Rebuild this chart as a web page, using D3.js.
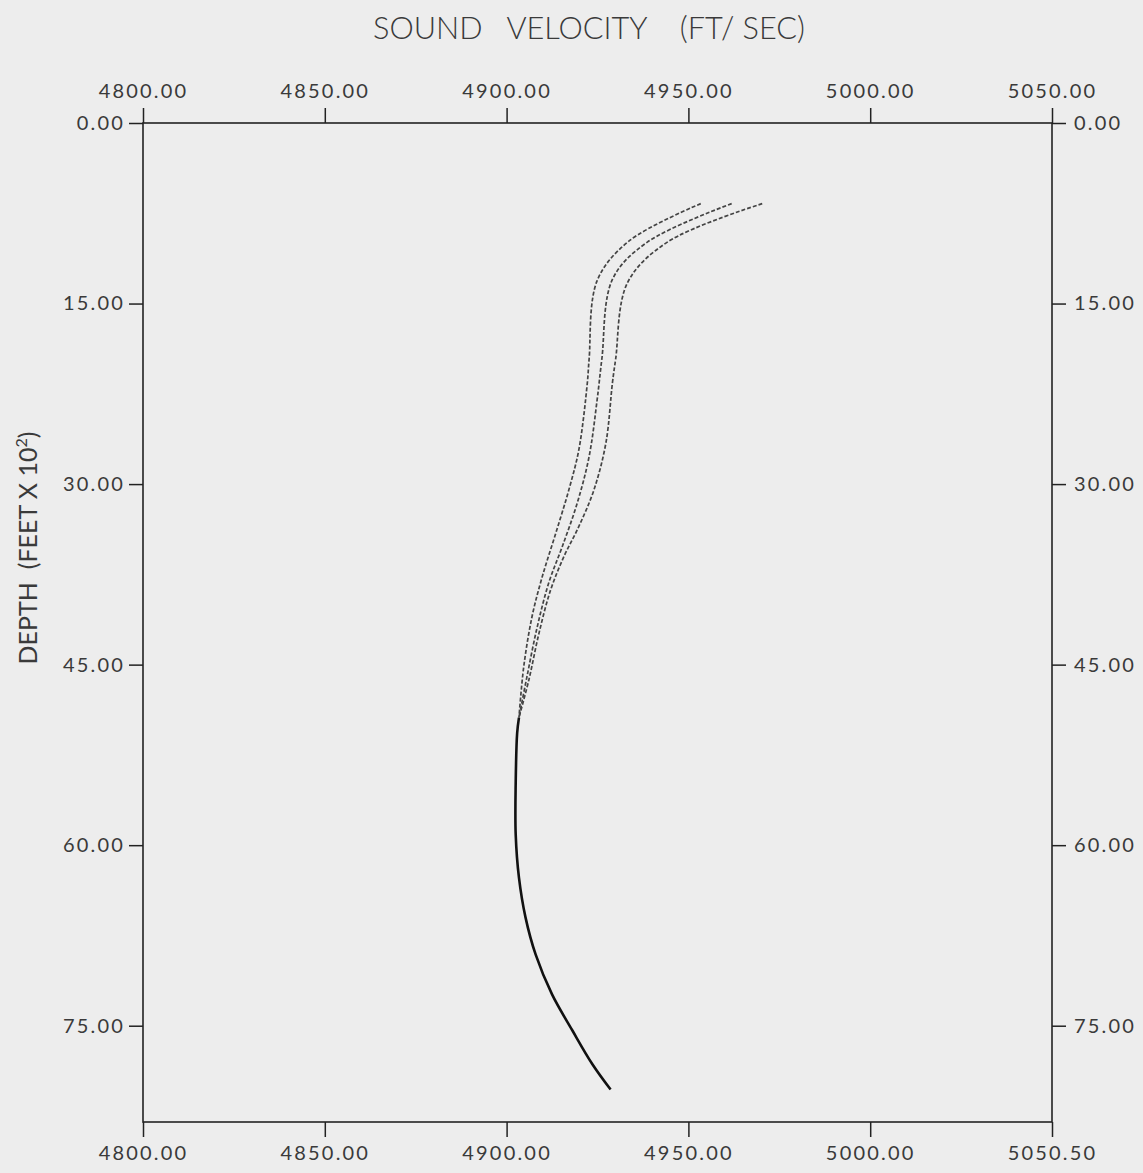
<!DOCTYPE html>
<html>
<head>
<meta charset="utf-8">
<script src="https://cdn.jsdelivr.net/npm/d3@7"></script>
<style>
  body { margin: 0; background: #ededed; }
  svg { display: block; }
  .tick text { font-family: Lato, "DejaVu Sans", sans-serif; fill: #3a3a3a; letter-spacing: 2.2px; }
  .pre { white-space: pre; }
</style>
</head>
<body>
<div id="chart"></div>
<script>
// Sound velocity profiles (depth in feet x 10^2, velocity in ft/sec)
const depthA = [6.7, 9.8, 13.1, 19.6, 21.6, 27.1, 30.5, 34.1, 37.7, 41.0, 45.2, 49.4];
const velA   = [4953.4, 4933.7, 4924.9, 4922.7, 4922.2, 4919.9, 4917.1, 4913.5, 4909.8, 4907.0, 4904.7, 4903.4];

const depthB = [6.7, 9.9, 13.0, 19.6, 23.0, 27.7, 31.6, 35.2, 38.2, 41.9, 46.0, 49.4];
const velB   = [4961.9, 4938.7, 4929.1, 4926.2, 4924.9, 4922.7, 4919.4, 4915.3, 4911.6, 4908.4, 4905.6, 4903.4];

const depthC = [6.7, 9.9, 13.3, 19.6, 21.6, 26.6, 30.5, 33.5, 36.0, 38.8, 42.4, 46.3, 49.4];
const velC   = [4970.3, 4944.2, 4933.2, 4930.0, 4929.1, 4927.3, 4924.0, 4919.9, 4915.8, 4912.1, 4908.9, 4906.1, 4903.4];

// common deep part of the profile
const depthDeep = [49.4, 50.7, 54.9, 59.1, 62.7, 66.0, 69.1, 72.4, 75.4, 78.2, 80.3];
const velDeep   = [4903.4, 4902.9, 4902.5, 4902.5, 4903.4, 4905.2, 4908.0, 4912.5, 4918.1, 4923.6, 4928.6];

const xTicks = [4800, 4850, 4900, 4950, 5000, 5050];
const xTopLabels = ["4800.00", "4850.00", "4900.00", "4950.00", "5000.00", "5050.00"];
const xBottomLabels = ["4800.00", "4850.00", "4900.00", "4950.00", "5000.00", "5050.50"];
const yTicks = [0, 15, 30, 45, 60, 75];
const yLabels = ["0.00", "15.00", "30.00", "45.00", "60.00", "75.00"];

const W = 1143, H = 1173;
const margin = { top: 123, right: 91, bottom: 51, left: 143 };
const width = W - margin.left - margin.right;
const height = H - margin.top - margin.bottom;

const svg = d3.select("#chart").append("svg")
    .attr("width", W)
    .attr("height", H);

svg.append("rect").attr("width", W).attr("height", H).attr("fill", "#ededed");

const g = svg.append("g")
    .attr("transform", `translate(${margin.left},${margin.top})`);

const x = d3.scaleLinear().domain([4800, 5050]).range([0, width]);
const y = d3.scaleLinear().domain([0, 83]).range([0, height]);

// frame
g.append("rect")
    .attr("width", width)
    .attr("height", height)
    .attr("fill", "none")
    .attr("stroke", "#222")
    .attr("stroke-width", 1.6);

function styleAxis(sel) {
    sel.select(".domain").remove();
    sel.selectAll(".tick line").attr("stroke", "#222").attr("stroke-width", 1.5);
    sel.selectAll(".tick text").attr("font-size", 20);
}

g.append("g")
    .call(d3.axisTop(x).tickValues(xTicks).tickSize(15).tickPadding(10)
        .tickFormat((d, i) => xTopLabels[i]))
    .call(styleAxis);

g.append("g")
    .attr("transform", `translate(0,${height})`)
    .call(d3.axisBottom(x).tickValues(xTicks).tickSize(15).tickPadding(9)
        .tickFormat((d, i) => xBottomLabels[i]))
    .call(styleAxis);

g.append("g")
    .call(d3.axisLeft(y).tickValues(yTicks).tickSize(14).tickPadding(4)
        .tickFormat((d, i) => yLabels[i]))
    .call(styleAxis);

g.append("g")
    .attr("transform", `translate(${width},0)`)
    .call(d3.axisRight(y).tickValues(yTicks).tickSize(14).tickPadding(8)
        .tickFormat((d, i) => yLabels[i]))
    .call(styleAxis);

// titles
svg.append("text")
    .attr("class", "pre")
    .attr("x", 589)
    .attr("y", 39)
    .attr("text-anchor", "middle")
    .attr("font-family", "Lato, sans-serif")
    .attr("font-weight", 300)
    .attr("font-size", 31)
    .attr("fill", "#3a3a3a")
    .attr("textLength", 432)
    .attr("lengthAdjust", "spacingAndGlyphs")
    .text("SOUND   VELOCITY    (FT/ SEC)");

const yt = svg.append("text")
    .attr("class", "pre")
    .attr("transform", "translate(37,548) rotate(-90)")
    .attr("text-anchor", "middle")
    .attr("font-family", "Lato, sans-serif")
    .attr("font-size", 25)
    .attr("fill", "#3a3a3a");
yt.append("tspan").text("DEPTH  (FEET X 10");
yt.append("tspan").attr("dy", -10).attr("font-size", 16).text("2");
yt.append("tspan").attr("dy", 10).text(")");

// profiles
const line = d3.line()
    .x(d => x(d[1]))
    .y(d => y(d[0]))
    .curve(d3.curveCatmullRom.alpha(0.5));

const upper = [[depthA, velA], [depthB, velB], [depthC, velC]];
upper.forEach(([ds, vs]) => {
    g.append("path")
        .datum(ds.map((d, i) => [d, vs[i]]))
        .attr("fill", "none")
        .attr("stroke", "#444")
        .attr("stroke-width", 1.7)
        .attr("stroke-dasharray", "4,2")
        .attr("d", line);
});

g.append("path")
    .datum(depthDeep.map((d, i) => [d, velDeep[i]]))
    .attr("fill", "none")
    .attr("stroke", "#111")
    .attr("stroke-width", 2.6)
    .attr("d", line);
</script>
</body>
</html>
